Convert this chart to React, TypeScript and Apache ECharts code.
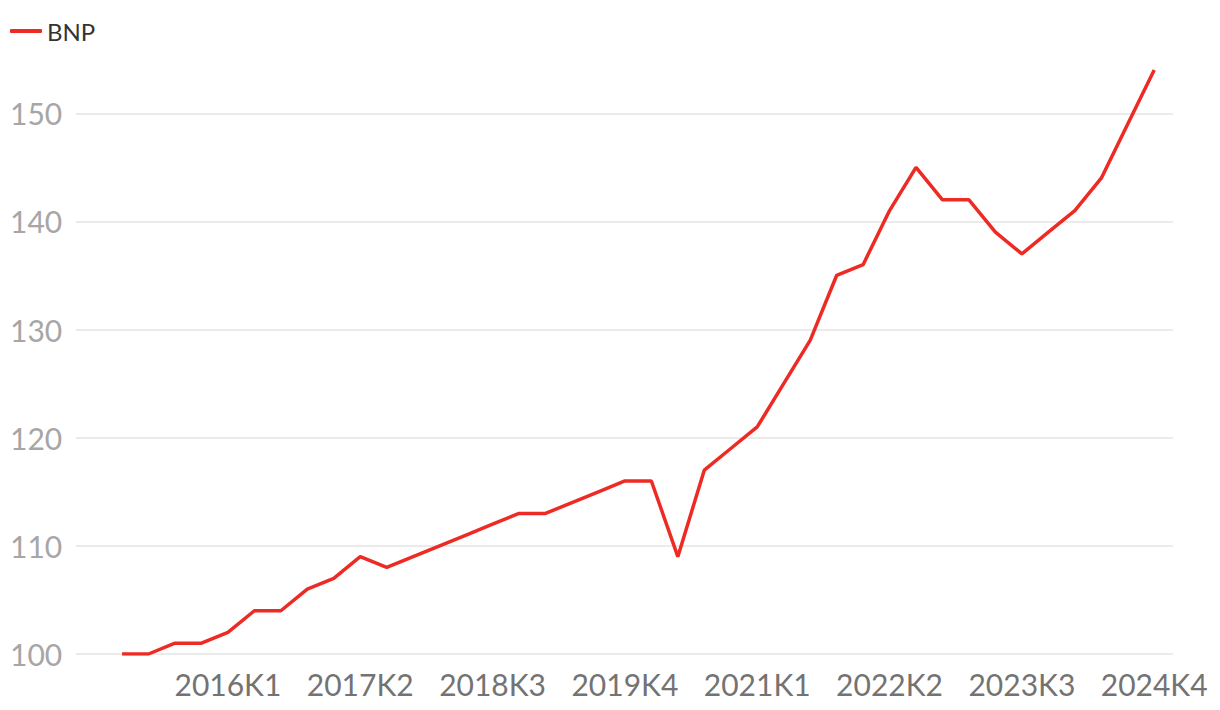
import React, { useEffect, useRef } from "react";
import * as echarts from "echarts";

const quarters = [
  "2015K1", "2015K2", "2015K3", "2015K4",
  "2016K1", "2016K2", "2016K3", "2016K4",
  "2017K1", "2017K2", "2017K3", "2017K4",
  "2018K1", "2018K2", "2018K3", "2018K4",
  "2019K1", "2019K2", "2019K3", "2019K4",
  "2020K1", "2020K2", "2020K3", "2020K4",
  "2021K1", "2021K2", "2021K3", "2021K4",
  "2022K1", "2022K2", "2022K3", "2022K4",
  "2023K1", "2023K2", "2023K3", "2023K4",
  "2024K1", "2024K2", "2024K3", "2024K4",
];

const bnp = [
  100, 100, 101, 101,
  102, 104, 104, 106,
  107, 109, 108, 109,
  110, 111, 112, 113,
  113, 114, 115, 116,
  116, 109, 117, 119,
  121, 125, 129, 135,
  136, 141, 145, 142,
  142, 139, 137, 139,
  141, 144, 149, 154,
];

const xTickLabels = ["2016K1", "2017K2", "2018K3", "2019K4", "2021K1", "2022K2", "2023K3", "2024K4"];
const yTicks = [100, 110, 120, 130, 140, 150];

export default function App() {
  const ref = useRef<HTMLDivElement>(null);
  useEffect(() => {
    if (!ref.current) return;
    const chart = echarts.init(ref.current, undefined, { renderer: "svg" });
    const tickIdx = xTickLabels.map((l) => quarters.indexOf(l));
    chart.setOption({
      animation: false,
      legend: {
        show: true,
        left: 5,
        top: 14,
        icon: "roundRect",
        itemWidth: 32,
        itemHeight: 4,
        itemGap: 6,
        textStyle: { fontFamily: "Lato", fontSize: 24, color: "#333333" },
        data: ["BNP"],
      },
      grid: { left: 76, right: 47, top: 70, bottom: 56, containLabel: false },
      xAxis: {
        type: "value",
        min: -1.74,
        max: 39.71,
        axisLine: { show: false },
        axisTick: { show: false },
        splitLine: { show: false },
        axisLabel: {
          customValues: tickIdx,
          formatter: (v: number) => quarters[Math.round(v)] ?? "",
          fontFamily: "Lato",
          fontSize: 30,
          color: "#737373",
          margin: 15,
          showMinLabel: true,
          showMaxLabel: true,
          hideOverlap: false,
        },
      },
      yAxis: {
        type: "value",
        min: 100,
        max: 154,
        interval: 10,
        axisLine: { show: false },
        axisTick: { show: false },
        splitLine: { show: true, showMaxLine: false, lineStyle: { color: "#e4e4e4", width: 1.5 } },
        axisLabel: {
          customValues: yTicks,
          fontFamily: "Lato",
          fontSize: 30,
          color: "#a6a6a6",
          align: "left",
          margin: 66,
        },
      },
      series: [
        {
          name: "BNP",
          type: "line",
          data: bnp.map((v, i) => [i, v]),
          symbol: "none",
          lineStyle: { color: "#ee2a24", width: 3.5 },
          itemStyle: { color: "#ee2a24" },
        },
      ],
    });
    return () => chart.dispose();
  }, []);
  return (
    <div
      ref={ref}
      style={{ position: "absolute", left: 0, top: 0, width: 1220, height: 710 }}
    />
  );
}
